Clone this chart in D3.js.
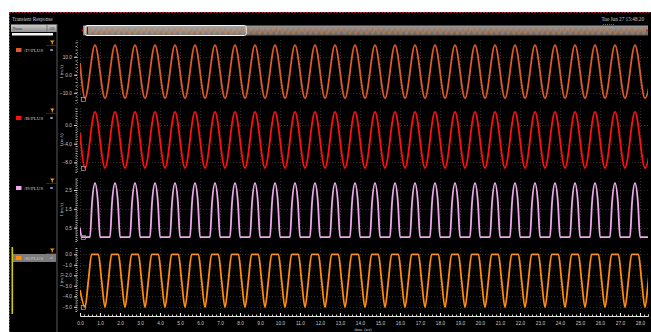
<!DOCTYPE html>
<html>
<head>
<meta charset="utf-8">
<script src="https://cdn.jsdelivr.net/npm/d3@7/dist/d3.min.js"></script>
<style>
  html, body { margin: 0; padding: 0; background: #fff; }
  svg { display: block; font-family: "Liberation Serif", "DejaVu Serif", serif; }
</style>
</head>
<body>
<div id="chart"></div>
<script>
// ---- data (time in us, current in mA) ----
const cycleStart = [0, 1, 2, 3, 4, 5, 6, 7, 8, 9, 10, 11, 12, 13, 14, 15, 16, 17, 18, 19, 20, 21, 22, 23, 24, 25, 26, 27, 28];
const xTickValues = [0, 1, 2, 3, 4, 5, 6, 7, 8, 9, 10, 11, 12, 13, 14, 15, 16, 17, 18, 19, 20, 21, 22, 23, 24, 25, 26, 27, 28];

// /I7/PLUS - sine
const i7Start = 6.5;
const i7Trough = [-13.0, -13.0, -13.0, -13.0, -13.0, -13.0, -13.0, -13.0, -13.0, -13.0, -13.0, -13.0, -13.0, -13.0, -13.0, -13.0, -13.0, -13.0, -13.0, -13.0, -13.0, -13.0, -13.0, -13.0, -13.0, -13.0, -13.0, -13.0, -13.0];
const i7Peak = [16.5, 16.5, 16.5, 16.5, 16.5, 16.5, 16.5, 16.5, 16.5, 16.5, 16.5, 16.5, 16.5, 16.5, 16.5, 16.5, 16.5, 16.5, 16.5, 16.5, 16.5, 16.5, 16.5, 16.5, 16.5, 16.5, 16.5, 16.5, 16.5];

// /I8/PLUS - sine
const i8Start = -1.7;
const i8Trough = [-9.2, -9.2, -9.2, -9.2, -9.2, -9.2, -9.2, -9.2, -9.2, -9.2, -9.2, -9.2, -9.2, -9.2, -9.2, -9.2, -9.2, -9.2, -9.2, -9.2, -9.2, -9.2, -9.2, -9.2, -9.2, -9.2, -9.2, -9.2, -9.2];
const i8Peak = [2.8, 2.8, 2.8, 2.8, 2.8, 2.8, 2.8, 2.8, 2.8, 2.8, 2.8, 2.8, 2.8, 2.8, 2.8, 2.8, 2.8, 2.8, 2.8, 2.8, 2.8, 2.8, 2.8, 2.8, 2.8, 2.8, 2.8, 2.8, 2.8];

// /I9/PLUS - half-wave (flat bottom)
const i9Start = 0.5;
const i9Base = [0.0, 0.0, 0.0, 0.0, 0.0, 0.0, 0.0, 0.0, 0.0, 0.0, 0.0, 0.0, 0.0, 0.0, 0.0, 0.0, 0.0, 0.0, 0.0, 0.0, 0.0, 0.0, 0.0, 0.0, 0.0, 0.0, 0.0, 0.0, 0.0];
const i9Shoulder = [1.8, 1.8, 1.8, 1.8, 1.8, 1.8, 1.8, 1.8, 1.8, 1.8, 1.8, 1.8, 1.8, 1.8, 1.8, 1.8, 1.8, 1.8, 1.8, 1.8, 1.8, 1.8, 1.8, 1.8, 1.8, 1.8, 1.8, 1.8, 1.8];
const i9Peak = [2.86, 2.86, 2.86, 2.86, 2.86, 2.86, 2.86, 2.86, 2.86, 2.86, 2.86, 2.86, 2.86, 2.86, 2.86, 2.86, 2.86, 2.86, 2.86, 2.86, 2.86, 2.86, 2.86, 2.86, 2.86, 2.86, 2.86, 2.86, 2.86];

// /I6/PLUS - clipped at top
const i6Start = -3.4;
const i6Trough = [-5.05, -5.05, -5.05, -5.05, -5.05, -5.05, -5.05, -5.05, -5.05, -5.05, -5.05, -5.05, -5.05, -5.05, -5.05, -5.05, -5.05, -5.05, -5.05, -5.05, -5.05, -5.05, -5.05, -5.05, -5.05, -5.05, -5.05, -5.05, -5.05];
const i6Mid = [-2.5, -2.5, -2.5, -2.5, -2.5, -2.5, -2.5, -2.5, -2.5, -2.5, -2.5, -2.5, -2.5, -2.5, -2.5, -2.5, -2.5, -2.5, -2.5, -2.5, -2.5, -2.5, -2.5, -2.5, -2.5, -2.5, -2.5, -2.5, -2.5];
const i6Top = [0.0, 0.0, 0.0, 0.0, 0.0, 0.0, 0.0, 0.0, 0.0, 0.0, 0.0, 0.0, 0.0, 0.0, 0.0, 0.0, 0.0, 0.0, 0.0, 0.0, 0.0, 0.0, 0.0, 0.0, 0.0, 0.0, 0.0, 0.0, 0.0];

const i7Ticks = [-10, 0, 10];
const i8Ticks = [-8, -4, 0];
const i9Ticks = [0.5, 1.5, 2.5];
const i6Ticks = [-5, -4, -3, -2, -1, 0];

const TITLE = 'Transient Response';
const DATE_TEXT = 'Tue Jun 27 15:48:20';
const X_LABEL = 'time (us)';
const Y_LABEL = 'I (mA)';

// ---- layout ----
const WIDTH = 651;
const HEIGHT = 332;
const PLOT_LEFT = 80;
const PLOT_RIGHT = 648;
const AXIS_X = 77;
const X_AXIS_Y = 316;
const TEXT_COLOR = '#c8c8c8';
const GRID_COLOR = '#2c2c2c';

const i7Points = [{ t: 0, v: i7Start }].concat(
  cycleStart.flatMap((c, k) => [{ t: c + 0.25, v: i7Trough[k] }, { t: c + 0.75, v: i7Peak[k] }]));
const i8Points = [{ t: 0, v: i8Start }].concat(
  cycleStart.flatMap((c, k) => [{ t: c + 0.25, v: i8Trough[k] }, { t: c + 0.75, v: i8Peak[k] }]));
const i9Points = [{ t: 0, v: i9Start }, { t: 0.08, v: i9Base[0] }].concat(
  cycleStart.flatMap((c, k) => [
    { t: c + 0.5, v: i9Base[k] },
    { t: c + 0.6, v: i9Shoulder[k] },
    { t: c + 0.75, v: i9Peak[k] },
    { t: c + 0.9, v: i9Shoulder[k] },
    { t: c + 1.0, v: i9Base[k] },
  ]));
const i6Points = [{ t: 0, v: i6Start }].concat(
  cycleStart.flatMap((c, k) => [
    { t: c + 0.25, v: i6Trough[k] },
    { t: c + 0.42, v: i6Mid[k] },
    { t: c + 0.58, v: i6Top[k] },
    { t: c + 0.92, v: i6Top[k] },
    { t: c + 1.08, v: i6Mid[k] },
  ]));

const strips = [
  { name: '/I7/PLUS', color: '#dc5a2c', top: 40, bottom: 103, domain: [-15.7, 19.3], ticks: i7Ticks, points: i7Points },
  { name: '/I8/PLUS', color: '#ff1010', top: 108, bottom: 172, domain: [-10.06, 3.64], ticks: i8Ticks, points: i8Points },
  { name: '/I9/PLUS', color: '#f0a8ec', top: 178, bottom: 241, domain: [-0.21, 3.14], ticks: i9Ticks, points: i9Points },
  { name: '/I6/PLUS', color: '#ff8c0a', top: 248, bottom: 311, domain: [-5.4, 0.6], ticks: i6Ticks, points: i6Points, selected: true },
];

const svg = d3.select('#chart').append('svg')
  .attr('width', WIDTH)
  .attr('height', HEIGHT);

const defs = svg.append('defs');
defs.append('clipPath').attr('id', 'plot-clip')
  .append('rect')
  .attr('x', PLOT_LEFT).attr('y', 0)
  .attr('width', PLOT_RIGHT - PLOT_LEFT).attr('height', HEIGHT);

// window background + dotted frame
svg.append('rect').attr('x', 9).attr('y', 12).attr('width', WIDTH - 9).attr('height', HEIGHT - 12).attr('fill', '#000');
svg.append('line').attr('x1', 9).attr('x2', WIDTH).attr('y1', 12.5).attr('y2', 12.5)
  .attr('stroke', '#a0283c').attr('stroke-dasharray', '2,1');
svg.append('line').attr('x1', 9.5).attr('x2', 9.5).attr('y1', 12).attr('y2', HEIGHT)
  .attr('stroke', '#a0283c').attr('stroke-dasharray', '2,1');

// title + date
svg.append('text').attr('x', 12).attr('y', 20.5).attr('fill', TEXT_COLOR).attr('font-size', 5.2).text(TITLE);
svg.append('text').attr('x', 644).attr('y', 21).attr('text-anchor', 'end').attr('fill', TEXT_COLOR).attr('font-size', 5.2).text(DATE_TEXT);
svg.append('line').attr('x1', 603).attr('x2', 614).attr('y1', 24.5).attr('y2', 24.5)
  .attr('stroke', '#666').attr('stroke-dasharray', '1,1');

// left panel: combo box + filter bar
const comboGrad = defs.append('linearGradient').attr('id', 'combo-grad').attr('x1', 0).attr('x2', 0).attr('y1', 0).attr('y2', 1);
comboGrad.append('stop').attr('offset', '0%').attr('stop-color', '#d0d0d0');
comboGrad.append('stop').attr('offset', '100%').attr('stop-color', '#8c8c8c');
svg.append('rect').attr('x', 11).attr('y', 24.5).attr('width', 46).attr('height', 7.5).attr('fill', 'url(#combo-grad)');
svg.append('line').attr('x1', 47).attr('x2', 47).attr('y1', 25).attr('y2', 31.5).attr('stroke', '#777');
svg.append('text').attr('x', 12.5).attr('y', 30).attr('fill', '#333').attr('font-size', 4.2).text('Name');
svg.append('text').attr('x', 49).attr('y', 30).attr('fill', '#333').attr('font-size', 4.2).text('All');
svg.append('rect').attr('x', 12).attr('y', 33).attr('width', 41).attr('height', 2.5).attr('fill', '#f4f4f4');
svg.append('line').attr('x1', 57).attr('x2', 57).attr('y1', 24).attr('y2', HEIGHT).attr('stroke', '#5a5a5a');

// overview bar
const ovGrad = defs.append('linearGradient').attr('id', 'ov-grad').attr('x1', 0).attr('x2', 0).attr('y1', 0).attr('y2', 1);
ovGrad.append('stop').attr('offset', '0%').attr('stop-color', '#9a9a9a');
ovGrad.append('stop').attr('offset', '100%').attr('stop-color', '#626262');
const ovScale = d3.scaleLinear().domain([0, 100]).range([83, 648]);
const ovPeriod = ovScale(1) - ovScale(0);
const ovY = d3.scaleLinear().domain(d3.extent(i7Points, d => d.v)).range([8.5, 2.5]);
const ovPattern = defs.append('pattern').attr('id', 'ov-wave').attr('patternUnits', 'userSpaceOnUse')
  .attr('x', ovScale(0)).attr('y', 25.5).attr('width', ovPeriod).attr('height', 10);
const ovLine = d3.line().x(d => d.t * ovPeriod).y(d => ovY(d.v)).curve(d3.curveMonotoneX);
ovPattern.append('path')
  .attr('d', ovLine([{ t: 0, v: (i7Trough[0] + i7Peak[0]) / 2 }, { t: 0.25, v: i7Trough[0] }, { t: 0.75, v: i7Peak[0] }, { t: 1, v: (i7Trough[0] + i7Peak[0]) / 2 }]))
  .attr('fill', 'none').attr('stroke', '#ec8030').attr('stroke-width', 0.9);
svg.append('rect').attr('x', 83).attr('y', 25.5).attr('width', 565).attr('height', 10).attr('fill', 'url(#ov-grad)');
svg.append('rect').attr('x', 83).attr('y', 25.5).attr('width', 565).attr('height', 10).attr('fill', 'url(#ov-wave)');
svg.append('rect').attr('x', ovScale(0) + 2).attr('y', 25.5).attr('width', ovScale(28.9) - ovScale(0) - 2).attr('height', 10)
  .attr('rx', 2).attr('fill', 'rgba(255,255,255,0.12)').attr('stroke', '#f4f4f4').attr('stroke-width', 1);
svg.append('line').attr('x1', ovScale(0) + 4.5).attr('x2', ovScale(0) + 4.5).attr('y1', 27).attr('y2', 34).attr('stroke', '#333').attr('stroke-width', 1);
svg.append('circle').attr('cx', 82.5).attr('cy', 30.5).attr('r', 1).attr('fill', '#c02020');
svg.append('circle').attr('cx', 647).attr('cy', 30.5).attr('r', 1).attr('fill', '#c02020');

// shared x scale
const x = d3.scaleLinear().domain([0, 28.4]).range([PLOT_LEFT, PLOT_RIGHT]);

strips.forEach(s => {
  const y = d3.scaleLinear().domain(s.domain).range([s.bottom, s.top]);
  const g = svg.append('g');

  // grid
  g.append('g').selectAll('line.hgrid').data(s.ticks).enter().append('line')
    .attr('x1', PLOT_LEFT).attr('x2', PLOT_RIGHT)
    .attr('y1', d => Math.round(y(d)) + 0.5).attr('y2', d => Math.round(y(d)) + 0.5)
    .attr('stroke', GRID_COLOR).attr('stroke-dasharray', '1,2');
  g.append('g').selectAll('line.vgrid').data(xTickValues).enter().append('line')
    .attr('x1', d => Math.round(x(d)) + 0.5).attr('x2', d => Math.round(x(d)) + 0.5)
    .attr('y1', s.top).attr('y2', s.bottom)
    .attr('stroke', GRID_COLOR).attr('stroke-dasharray', '1,2');

  // y axis: major + minor ticks
  const minor = g.append('g').attr('transform', `translate(${AXIS_X},0)`)
    .call(d3.axisLeft(y).ticks(24).tickSize(1.5).tickFormat(''));
  minor.select('.domain').attr('stroke', '#777').attr('stroke-dasharray', '1,1.5');
  minor.selectAll('.tick line').attr('stroke', '#aaa');
  const major = g.append('g').attr('transform', `translate(${AXIS_X},0)`)
    .call(d3.axisLeft(y).tickValues(s.ticks).tickSize(3).tickPadding(2).tickFormat(d3.format('.1f')));
  major.select('.domain').remove();
  major.selectAll('.tick line').attr('stroke', '#ddd');
  major.selectAll('.tick text').attr('fill', TEXT_COLOR).attr('font-size', 4.8).attr('font-family', null);

  g.append('text')
    .attr('transform', `translate(63,${(s.top + s.bottom) / 2}) rotate(-90)`)
    .attr('text-anchor', 'middle').attr('fill', TEXT_COLOR).attr('font-size', 4.8)
    .text(Y_LABEL);

  // waveform
  const line = d3.line().x(d => x(d.t)).y(d => y(d.v)).curve(d3.curveMonotoneX);
  g.append('path')
    .datum(s.points)
    .attr('clip-path', 'url(#plot-clip)')
    .attr('d', line)
    .attr('fill', 'none')
    .attr('stroke', s.color)
    .attr('stroke-width', 1.8)
    .attr('stroke-linejoin', 'round');

  // little marker box bottom-left
  g.append('rect').attr('x', 81.5).attr('y', s.bottom - 5.5).attr('width', 4).attr('height', 4)
    .attr('fill', 'none').attr('stroke', '#aaa').attr('stroke-width', 0.7);

  // legend entry in left panel
  const ly = s.top + 10;
  if (s.selected) {
    svg.append('rect').attr('x', 11.5).attr('y', s.top - 1).attr('width', 1.6).attr('height', 67).attr('fill', '#d4cc00');
    svg.append('rect').attr('x', 13).attr('y', ly - 4).attr('width', 43).attr('height', 8).attr('fill', '#7c7c7c');
  }
  svg.append('path')
    .attr('d', `M${50},${s.top + 0.5} L${54.5},${s.top + 0.5} L${52.8},${s.top + 2.6} L${52.8},${s.top + 4.5} L${51.7},${s.top + 4.5} L${51.7},${s.top + 2.6} Z`)
    .attr('fill', '#f09a20');
  svg.append('line').attr('x1', 46).attr('x2', 57).attr('y1', s.top + 5.5).attr('y2', s.top + 5.5).attr('stroke', '#444').attr('stroke-width', 0.6);
  svg.append('rect').attr('x', 16).attr('y', ly - 2).attr('width', 5.5).attr('height', 4).attr('fill', s.color);
  svg.append('text').attr('x', 24).attr('y', ly + 1.8).attr('fill', TEXT_COLOR).attr('font-size', 5).text(s.name);
  svg.append('ellipse').attr('cx', 51.5).attr('cy', ly).attr('rx', 1.6).attr('ry', 1.1).attr('fill', '#8da2c8');
});

// x axis
const xMinor = svg.append('g').attr('transform', `translate(0,${X_AXIS_Y})`)
  .call(d3.axisBottom(x).ticks(140).tickSize(-1.5).tickFormat(''));
xMinor.select('.domain').attr('stroke', '#e0e0e0');
xMinor.selectAll('.tick line').attr('stroke', '#cfcfcf');
const xMajor = svg.append('g').attr('transform', `translate(0,${X_AXIS_Y})`)
  .call(d3.axisBottom(x).tickValues(xTickValues).tickSize(-3).tickPadding(6).tickFormat(d3.format('.1f')));
xMajor.select('.domain').remove();
xMajor.selectAll('.tick line').attr('stroke', '#eee');
xMajor.selectAll('.tick text').attr('fill', TEXT_COLOR).attr('font-size', 4.8).attr('font-family', null);

svg.append('text').attr('x', 363).attr('y', 330.5).attr('text-anchor', 'middle')
  .attr('fill', TEXT_COLOR).attr('font-size', 4.8).text(X_LABEL);
</script>
</body>
</html>
